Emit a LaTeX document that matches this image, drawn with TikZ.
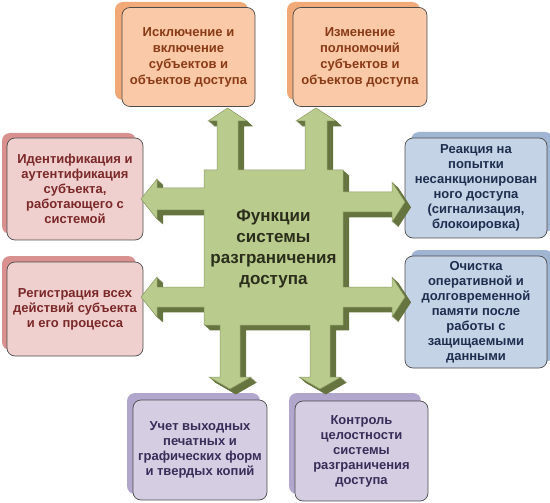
\documentclass[tikz,border=0pt]{standalone}
\usepackage{fontspec}
\setmainfont{Liberation Sans}
\definecolor{orfront}{HTML}{FAC9A7}
\definecolor{orback}{HTML}{F2A978}
\definecolor{ortext}{HTML}{8A3A16}
\definecolor{pkfront}{HTML}{F0D0CF}
\definecolor{pkback}{HTML}{D8918F}
\definecolor{pktext}{HTML}{7A2828}
\definecolor{blfront}{HTML}{C5D3E6}
\definecolor{blback}{HTML}{9FB5D2}
\definecolor{bltext}{HTML}{1E2E4E}
\definecolor{pufront}{HTML}{D5CEE3}
\definecolor{puback}{HTML}{B1A6CC}
\definecolor{putext}{HTML}{3A2C58}
\definecolor{armlight}{HTML}{BACB8E}
\definecolor{armdark}{HTML}{66743F}
\definecolor{armline}{HTML}{8C9B62}
\definecolor{centtext}{HTML}{2A2E1A}
\begin{document}
\begin{tikzpicture}[x=1pt,y=-1pt,
  box/.style={draw=black!70, line width=0.7pt, rounded corners=8pt, align=center,
    font=\bfseries\fontsize{13}{15}\selectfont, inner sep=0pt},
  orbox/.style={box, fill=orfront, text=ortext, font=\bfseries\fontsize{13}{16}\selectfont},
  pkbox/.style={box, fill=pkfront, text=pktext},
  blbox/.style={box, fill=blfront, text=bltext},
  pubox/.style={box, fill=pufront, text=putext},
  backbox/.style={rounded corners=8pt},
  centre/.style={font=\bfseries\fontsize{17}{21}\selectfont, text=centtext, align=center}]
\useasboundingbox (0,0) rectangle (550,503);
% back boxes
\fill[backbox, orback] (115,2) rectangle (248,100);
\fill[backbox, orback] (287,2) rectangle (420,100);
\fill[backbox, pkback] (2,133) rectangle (136,234);
\fill[backbox, pkback] (2,256) rectangle (136,350);
\fill[backbox, blback] (411,132) rectangle (553,232);
\fill[backbox, blback] (411,250) rectangle (553,362);
\fill[backbox, puback] (127,393) rectangle (260,494);
\fill[backbox, puback] (289,393) rectangle (421,494);
% front boxes
\node[orbox, minimum width=133pt, minimum height=99pt] (tl) at (188.5,57)
  {Исключение и\\включение\\субъектов и\\объектов доступа};
\node[orbox, minimum width=134pt, minimum height=99pt] (tr) at (360,57)
  {Изменение\\полномочий\\субъектов и\\объектов доступа};
\node[pkbox, minimum width=136pt, minimum height=102pt] (lu) at (75,189)
  {Идентификация и\\аутентификация\\субъекта,\\работающего с\\системой};
\node[pkbox, minimum width=136pt, minimum height=94pt] (ll) at (75,309)
  {Регистрация всех\\действий субъекта\\и его процесса};
\node[blbox, minimum width=142pt, minimum height=100pt] (ru) at (476,188)
  {Реакция на\\попытки\\несанкционирован\\ного доступа\\(сигнализация,\\блокоировка)};
\node[blbox, minimum width=142pt, minimum height=112pt] (rl) at (476,312)
  {Очистка\\оперативной и\\долговременной\\памяти после\\работы с\\защищаемыми\\данными};
\node[pubox, minimum width=134pt, minimum height=100pt] (bl) at (200,450)
  {Учет выходных\\печатных и\\графических форм\\и твердых копий};
\node[pubox, minimum width=133pt, minimum height=100pt] (br) at (361.5,451)
  {Контроль\\целостности\\системы\\разграничения\\доступа};
% central extruded cross with arrows
\def\armpath{(204,170) -- (217,170) -- (217,121) -- (208,121) -- (227.5,108) -- (247,121) -- (238,121) -- (238,170) -- (305,170) -- (305,121) -- (296,121) -- (316,108) -- (336,121) -- (327,121) -- (327,170) -- (343,170) -- (343,192) -- (392,192) -- (392,182) -- (405,202) -- (392,222) -- (392,212) -- (343,212) -- (343,287) -- (392,287) -- (392,277) -- (405,297) -- (392,317) -- (392,307) -- (343,307) -- (343,325) -- (330,325) -- (330,377) -- (341,377) -- (320,389) -- (299,377) -- (310,377) -- (310,325) -- (240,325) -- (240,377) -- (251,377) -- (230,389) -- (209,377) -- (220,377) -- (220,325) -- (204,325) -- (204,307) -- (157,307) -- (157,317) -- (141,297) -- (157,277) -- (157,287) -- (204,287) -- (204,210) -- (157,210) -- (157,219) -- (141,199) -- (157,179) -- (157,188) -- (204,188) -- cycle}
\foreach \d in {0.5,1,...,6}{\fill[armdark, shift={(\d,0.9*\d)}] \armpath;}
\filldraw[fill=armlight, draw=armline, line width=0.5pt] \armpath;
\node[centre] (c) at (273.5,249) {Функции\\системы\\разграничения\\доступа};
\end{tikzpicture}
\end{document}
